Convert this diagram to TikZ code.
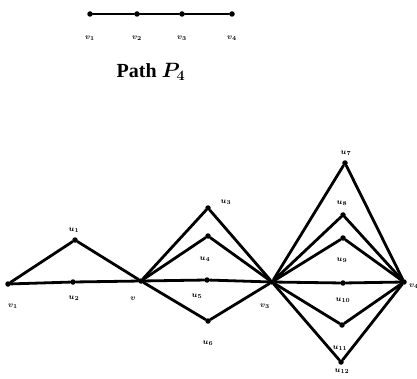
\documentclass[tikz,border=0pt]{standalone}
\usepackage{fontspec}
\setmainfont{Liberation Serif}
\usetikzlibrary{positioning}
\tikzset{
  vtx/.style={circle, fill=black, inner sep=0pt, minimum size=5.5pt},
  lbl/.style={font={\fontsize{8}{9}\selectfont\bfseries\boldmath}, inner sep=1pt},
  ttl/.style={font={\fontsize{20}{22}\selectfont\bfseries}},
  edge/.style={line width=2.8pt, line cap=round, line join=round},
}

\begin{document}
\begin{tikzpicture}[x=1pt,y=-1pt]
  \useasboundingbox (0,0) rectangle (417,379);
  % path P4
  \node[vtx] (p1) at (90,14) {};
  \node[vtx] (p2) at (137,14) {};
  \node[vtx] (p3) at (182,14) {};
  \node[vtx] (p4) at (232,14) {};
  \draw[edge] (p1)--(p2)--(p3)--(p4);
  \node[lbl,below=18pt of p1] (lp1) {$v_1$};
  \node[lbl,below=18pt of p2] (lp2) {$v_2$};
  \node[lbl,below=18pt of p3] (lp3) {$v_3$};
  \node[lbl,below=18pt of p4] (lp4) {$v_4$};
  \node[ttl] (title) at (151,72) {Path {\boldmath$P_4$}};
  % the graph
  \node[vtx] (v1) at (8,284) {};
  \node[vtx] (v2) at (141,281) {};
  \node[vtx] (v3) at (272,282) {};
  \node[vtx] (v4) at (404,282) {};
  \node[vtx] (u1) at (75,240) {};
  \node[vtx] (u2) at (73,282) {};
  \node[vtx] (u3) at (208,208) {};
  \node[vtx] (u4) at (208,236) {};
  \node[vtx] (u5) at (207,280) {};
  \node[vtx] (u6) at (208,321) {};
  \node[vtx] (u7) at (345,163) {};
  \node[vtx] (u8) at (343,215) {};
  \node[vtx] (u9) at (343,238) {};
  \node[vtx] (u10) at (343,283) {};
  \node[vtx] (u11) at (342,325) {};
  \node[vtx] (u12) at (341,362) {};
  \foreach \u in {u1,u2} \draw[edge] (v1)--(\u)--(v2);
  \foreach \u in {u3,u4,u5,u6} \draw[edge] (v2)--(\u)--(v3);
  \foreach \u in {u7,u8,u9,u10,u11,u12} \draw[edge] (v3)--(\u)--(v4);
  % labels
  \node[lbl] (lv1) at (13,306) {$v_1$};
  \node[lbl] (lv2) at (133,299) {$v$};
  \node[lbl] (lv3) at (265,306) {$v_3$};
  \node[lbl,anchor=west,inner sep=0pt] (lv4) at (409,286) {$v_4$};
  \node[lbl] (lu1) at (74,230) {$u_1$};
  \node[lbl] (lu2) at (74,298) {$u_2$};
  \node[lbl] (lu3) at (226,202) {$u_3$};
  \node[lbl] (lu4) at (205,259) {$u_4$};
  \node[lbl] (lu5) at (197,296) {$u_5$};
  \node[lbl] (lu6) at (208,343) {$u_6$};
  \node[lbl] (lu7) at (346,153) {$u_7$};
  \node[lbl] (lu8) at (342,203) {$u_8$};
  \node[lbl] (lu9) at (342,260) {$u_9$};
  \node[lbl] (lu10) at (343,300) {$u_{10}$};
  \node[lbl] (lu11) at (340,348) {$u_{11}$};
  \node[lbl] (lu12) at (342,371) {$u_{12}$};
\end{tikzpicture}
\end{document}
